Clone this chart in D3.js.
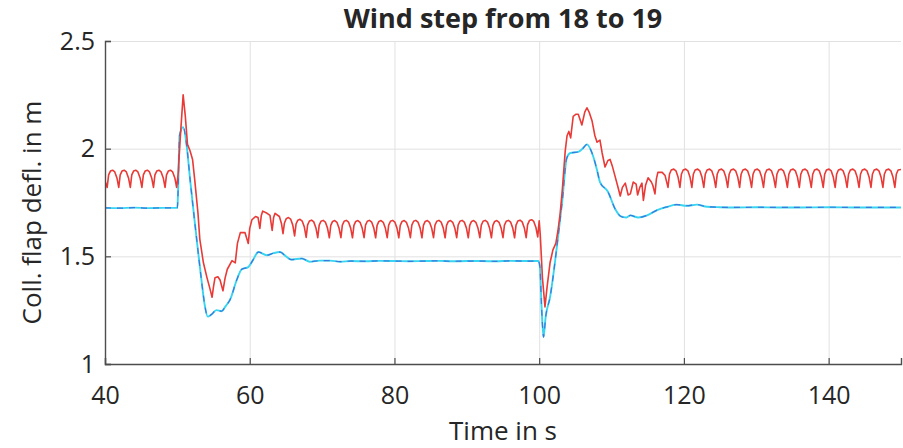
<!DOCTYPE html>
<html>
<head>
<meta charset="utf-8">
<script src="https://cdn.jsdelivr.net/npm/d3@7"></script>
<style>
  body { margin: 0; background: #fff; }
  text { font-family: "Open Sans", "Noto Sans", sans-serif; fill: #262626; }
</style>
</head>
<body>
<div id="chart"></div>
<script>
// chart texts and ticks
var titleText = "Wind step from 18 to 19";
var xLabel = "Time in s";
var yLabel = "Coll. flap defl. in m";
var xTicks = [40, 60, 80, 100, 120, 140];
var yTicks = [1, 1.5, 2, 2.5];
var xDomain = [40, 150];
var yDomain = [1, 2.5];

// red series [time, value]
var redPoints = [
  [40.0,1.85],
  [40.3,1.82],[40.5,1.878],[40.75,1.896],[41.05,1.90],[41.35,1.892],[41.65,1.864],
  [41.9,1.82],[42.1,1.878],[42.35,1.896],[42.65,1.90],[42.95,1.892],[43.25,1.864],
  [43.5,1.82],[43.7,1.878],[43.95,1.896],[44.25,1.90],[44.55,1.892],[44.85,1.864],
  [45.1,1.82],[45.3,1.878],[45.55,1.896],[45.85,1.90],[46.15,1.892],[46.45,1.864],
  [46.7,1.82],[46.9,1.878],[47.15,1.896],[47.45,1.90],[47.75,1.892],[48.05,1.864],
  [48.3,1.82],[48.5,1.878],[48.75,1.896],[49.05,1.90],[49.35,1.892],[49.65,1.864],
  [49.9,1.82],[50.1,1.88],[50.4,2.05],[50.8,2.25],[51.1,2.15],[51.4,2.02],
  [51.75,1.99],[52.1,1.95],[52.4,1.855],[52.85,1.70],[53.1,1.58],[53.6,1.47],
  [54.1,1.40],[54.5,1.35],[54.8,1.31],[55.0,1.36],[55.2,1.40],[55.6,1.405],[55.9,1.39],[56.3,1.34],
  [56.6,1.40],[56.9,1.44],[57.55,1.48],[58.0,1.47],[58.3,1.56],[58.7,1.61],[59.35,1.61],[59.8,1.56],
  [60.0,1.63],[60.3,1.67],[60.8,1.685],[61.15,1.68],[61.4,1.63],[61.6,1.69],[61.8,1.71],[62.4,1.70],[62.8,1.69],
  [63.1,1.62],[63.3,1.68],[63.5,1.70],[64.1,1.685],[64.4,1.65],
  [64.6,1.605],[64.8,1.655],[65.05,1.675],[65.35,1.68],[65.65,1.673],[65.95,1.645],
  [66.2,1.595],[66.4,1.65],[66.65,1.668],[66.95,1.672],[67.25,1.664],[67.55,1.636],
  [67.8,1.588],[68.0,1.646],[68.25,1.664],[68.55,1.668],[68.85,1.66],[69.15,1.632],
  [69.4,1.587],[69.6,1.645],[69.85,1.663],[70.15,1.667],[70.45,1.659],[70.75,1.631],
  [71.0,1.586],[71.2,1.644],[71.45,1.662],[71.75,1.666],[72.05,1.658],[72.35,1.630],
  [72.6,1.587],[72.8,1.645],[73.05,1.663],[73.35,1.667],[73.65,1.659],[73.95,1.631],
  [74.2,1.586],[74.4,1.644],[74.65,1.662],[74.95,1.666],[75.25,1.658],[75.55,1.630],
  [75.8,1.587],[76.0,1.645],[76.25,1.663],[76.55,1.667],[76.85,1.659],[77.15,1.631],
  [77.4,1.586],[77.6,1.644],[77.85,1.662],[78.15,1.666],[78.45,1.658],[78.75,1.630],
  [79.0,1.587],[79.2,1.645],[79.45,1.663],[79.75,1.667],[80.05,1.659],[80.35,1.631],
  [80.6,1.586],[80.8,1.644],[81.05,1.662],[81.35,1.666],[81.65,1.658],[81.95,1.630],
  [82.2,1.587],[82.4,1.645],[82.65,1.663],[82.95,1.667],[83.25,1.659],[83.55,1.631],
  [83.8,1.586],[84.0,1.644],[84.25,1.662],[84.55,1.666],[84.85,1.658],[85.15,1.630],
  [85.4,1.587],[85.6,1.645],[85.85,1.663],[86.15,1.667],[86.45,1.659],[86.75,1.631],
  [87.0,1.586],[87.2,1.644],[87.45,1.662],[87.75,1.666],[88.05,1.658],[88.35,1.630],
  [88.6,1.587],[88.8,1.645],[89.05,1.663],[89.35,1.667],[89.65,1.659],[89.95,1.631],
  [90.2,1.586],[90.4,1.644],[90.65,1.662],[90.95,1.666],[91.25,1.658],[91.55,1.630],
  [91.8,1.587],[92.0,1.645],[92.25,1.663],[92.55,1.667],[92.85,1.659],[93.15,1.631],
  [93.4,1.586],[93.6,1.644],[93.85,1.662],[94.15,1.666],[94.45,1.658],[94.75,1.630],
  [95.0,1.587],[95.2,1.645],[95.45,1.663],[95.75,1.667],[96.05,1.659],[96.35,1.631],
  [96.6,1.586],[96.8,1.645],[97.05,1.664],[97.35,1.668],[97.65,1.660],[97.95,1.632],
  [98.2,1.587],[98.4,1.647],[98.65,1.666],[98.95,1.670],[99.25,1.662],[99.55,1.634],
  [99.8,1.59],[100.0,1.665],[100.15,1.60],[100.45,1.40],[100.8,1.265],
  [101.1,1.36],[101.5,1.47],[101.9,1.53],[102.3,1.56],[102.6,1.62],[102.9,1.70],
  [103.2,1.81],[103.6,1.99],[103.85,2.06],[104.1,2.08],[104.35,2.05],[104.7,2.15],
  [105.1,2.16],[105.4,2.16],[105.9,2.11],[106.3,2.17],[106.6,2.19],[106.9,2.17],
  [107.3,2.13],[107.7,2.06],[108.0,2.03],[108.4,2.04],[108.7,1.98],[109.1,1.915],
  [109.5,1.945],[109.8,1.95],[110.1,1.92],[110.5,1.87],[110.9,1.82],[111.2,1.78],[111.5,1.82],
  [111.9,1.84],[112.3,1.785],[112.6,1.79],[113.0,1.845],[113.4,1.835],[113.6,1.785],
  [113.9,1.82],[114.2,1.84],[114.4,1.76],[114.7,1.83],[115.05,1.865],[115.5,1.845],[115.7,1.83],
  [116.0,1.79],[116.2,1.86],[116.4,1.89],[117.0,1.89],[117.4,1.875],
  [117.8,1.82],[118.0,1.881],[118.25,1.901],[118.6,1.905],[118.9,1.897],[119.2,1.867],
  [119.45,1.82],[119.65,1.881],[119.9,1.901],[120.25,1.905],[120.55,1.897],[120.85,1.867],
  [121.1,1.82],[121.3,1.881],[121.55,1.901],[121.9,1.905],[122.2,1.897],[122.5,1.867],
  [122.75,1.82],[122.95,1.881],[123.2,1.901],[123.55,1.905],[123.85,1.897],[124.15,1.867],
  [124.4,1.82],[124.6,1.881],[124.85,1.901],[125.2,1.905],[125.5,1.897],[125.8,1.867],
  [126.05,1.82],[126.25,1.881],[126.5,1.901],[126.85,1.905],[127.15,1.897],[127.45,1.867],
  [127.7,1.82],[127.9,1.881],[128.15,1.901],[128.5,1.905],[128.8,1.897],[129.1,1.867],
  [129.35,1.82],[129.55,1.881],[129.8,1.901],[130.15,1.905],[130.45,1.897],[130.75,1.867],
  [131.0,1.82],[131.2,1.881],[131.45,1.901],[131.8,1.905],[132.1,1.897],[132.4,1.867],
  [132.65,1.82],[132.85,1.881],[133.1,1.901],[133.45,1.905],[133.75,1.897],[134.05,1.867],
  [134.3,1.82],[134.5,1.881],[134.75,1.901],[135.1,1.905],[135.4,1.897],[135.7,1.867],
  [135.95,1.82],[136.15,1.881],[136.4,1.901],[136.75,1.905],[137.05,1.897],[137.35,1.867],
  [137.6,1.82],[137.8,1.881],[138.05,1.901],[138.4,1.905],[138.7,1.897],[139.0,1.867],
  [139.25,1.82],[139.45,1.881],[139.7,1.901],[140.05,1.905],[140.35,1.897],[140.65,1.867],
  [140.9,1.82],[141.1,1.881],[141.35,1.901],[141.7,1.905],[142.0,1.897],[142.3,1.867],
  [142.55,1.82],[142.75,1.881],[143.0,1.901],[143.35,1.905],[143.65,1.897],[143.95,1.867],
  [144.2,1.82],[144.4,1.881],[144.65,1.901],[145.0,1.905],[145.3,1.897],[145.6,1.867],
  [145.85,1.82],[146.05,1.881],[146.3,1.901],[146.65,1.905],[146.95,1.897],[147.25,1.867],
  [147.5,1.82],[147.7,1.881],[147.95,1.901],[148.3,1.905],[148.6,1.897],[148.9,1.867],
  [149.15,1.82],[149.35,1.881],[149.6,1.901],[150.0,1.903]
];

// cyan (solid) and blue (dashed) series lie on top of each other in the picture
var cyanPoints = [
  [40,1.725],[42,1.724],[44,1.726],[46,1.724],[48,1.725],[50.0,1.725],
  [50.1,1.80],[50.3,2.06],[50.8,2.10],[51.3,2.01],[51.75,1.86],[52.2,1.72],
  [52.7,1.57],[53.4,1.37],[53.8,1.27],[54.2,1.22],[54.7,1.23],[55.4,1.25],
  [56.1,1.245],[56.7,1.27],[57.3,1.30],[58.2,1.39],[58.9,1.44],[59.8,1.45],
  [60.4,1.48],[61.2,1.52],[62.35,1.505],[63.3,1.515],[64.2,1.52],[65.0,1.50],
  [65.7,1.485],[67.2,1.49],[68.3,1.475],[69.7,1.48],[71.1,1.48],[72.5,1.475],
  [74,1.478],[76,1.477],[78,1.479],[80,1.478],[82,1.477],[84,1.478],[86,1.479],
  [88,1.477],[90,1.478],[92,1.478],[94,1.477],[96,1.479],[98,1.478],[99.9,1.478],
  [100.1,1.45],[100.35,1.25],[100.6,1.125],[100.9,1.22],[101.5,1.31],[102.5,1.56],
  [103.2,1.76],[103.8,1.955],[104.3,1.98],[105.4,1.985],[106.0,2.00],[106.6,2.02],
  [107.3,1.98],[108.0,1.90],[108.4,1.845],[109.5,1.80],[110.5,1.72],[111.3,1.685],
  [112.0,1.68],[112.6,1.69],[113.7,1.68],[114.9,1.69],[116.3,1.715],[117.7,1.73],
  [119.0,1.74],[120.4,1.735],[121.8,1.74],[123.2,1.73],[125,1.728],[127,1.727],
  [130,1.728],[133,1.727],[136,1.727],[140,1.728],[144,1.727],[147,1.727],[150,1.727]
];
var bluePoints = cyanPoints;

var svgWidth = 903;
var svgHeight = 448;
var margin = { top: 41, right: 2, bottom: 84, left: 105 };
var width = svgWidth - margin.left - margin.right;
var height = svgHeight - margin.top - margin.bottom;

var svg = d3.select("#chart")
  .append("svg")
  .attr("width", svgWidth)
  .attr("height", svgHeight);

svg.append("rect")
  .attr("width", svgWidth)
  .attr("height", svgHeight)
  .attr("fill", "#fff");

var chartGroup = svg.append("g")
  .attr("transform", `translate(${margin.left}, ${margin.top})`);

var xScale = d3.scaleLinear().domain(xDomain).range([0, width]);
var yScale = d3.scaleLinear().domain(yDomain).range([height, 0]);

// grid
chartGroup.append("g")
  .attr("transform", `translate(0, ${height})`)
  .call(d3.axisBottom(xScale).tickValues(xTicks).tickSize(-height).tickFormat(""))
  .call(g => g.select(".domain").remove())
  .call(g => g.selectAll("line").attr("stroke", "#e1e1e1"));

chartGroup.append("g")
  .call(d3.axisLeft(yScale).tickValues(yTicks).tickSize(-width).tickFormat(""))
  .call(g => g.select(".domain").remove())
  .call(g => g.selectAll("line").attr("stroke", "#e1e1e1"));

// lines
chartGroup.append("clipPath")
  .attr("id", "clip")
  .append("rect")
  .attr("width", width)
  .attr("height", height);

var lineRed = d3.line()
  .x(d => xScale(d[0]))
  .y(d => yScale(d[1]));

var lineSmooth = d3.line()
  .x(d => xScale(d[0]))
  .y(d => yScale(d[1]))
  .curve(d3.curveMonotoneX);

var lines = chartGroup.append("g").attr("clip-path", "url(#clip)");

lines.append("path")
  .datum(cyanPoints)
  .attr("d", lineSmooth)
  .attr("fill", "none")
  .attr("stroke", "#38d4f0")
  .attr("stroke-width", 1.9);

lines.append("path")
  .datum(bluePoints)
  .attr("d", lineSmooth)
  .attr("fill", "none")
  .attr("stroke", "#3a78dc")
  .attr("stroke-width", 1.2)
  .attr("stroke-dasharray", "6,6");

lines.append("path")
  .datum(redPoints)
  .attr("d", lineRed)
  .attr("fill", "none")
  .attr("stroke", "#e83a36")
  .attr("stroke-width", 1.6)
  .attr("stroke-linejoin", "round");

// axes
var xAxis = d3.axisBottom(xScale).tickValues(xTicks).tickSize(-6).tickPadding(22);
var yAxis = d3.axisLeft(yScale).tickValues(yTicks).tickSize(-6).tickPadding(10)
  .tickFormat(d => String(d));

var xg = chartGroup.append("g")
  .attr("transform", `translate(0, ${height})`)
  .call(xAxis);

var yg = chartGroup.append("g")
  .call(yAxis);

[xg, yg].forEach(function(g) {
  g.select(".domain").attr("stroke", "#4d4d4d").attr("stroke-width", 1.4);
  g.selectAll(".tick line").attr("stroke", "#4d4d4d").attr("stroke-width", 1.2);
  g.selectAll(".tick text")
    .attr("font-family", "'Open Sans', 'Noto Sans', sans-serif")
    .attr("font-size", 25)
    .attr("fill", "#262626");
});

// labels
svg.append("text")
  .attr("x", margin.left + width / 2)
  .attr("y", 28)
  .attr("text-anchor", "middle")
  .attr("font-size", 27)
  .attr("font-weight", "bold")
  .attr("fill", "#000")
  .text(titleText);

svg.append("text")
  .attr("x", margin.left + width / 2)
  .attr("y", 440)
  .attr("text-anchor", "middle")
  .attr("font-size", 26)
  .text(xLabel);

svg.append("text")
  .attr("transform", `translate(41, ${margin.top + height / 2 + 10}) rotate(-90)`)
  .attr("text-anchor", "middle")
  .attr("font-size", 26)
  .text(yLabel);
</script>
</body>
</html>
